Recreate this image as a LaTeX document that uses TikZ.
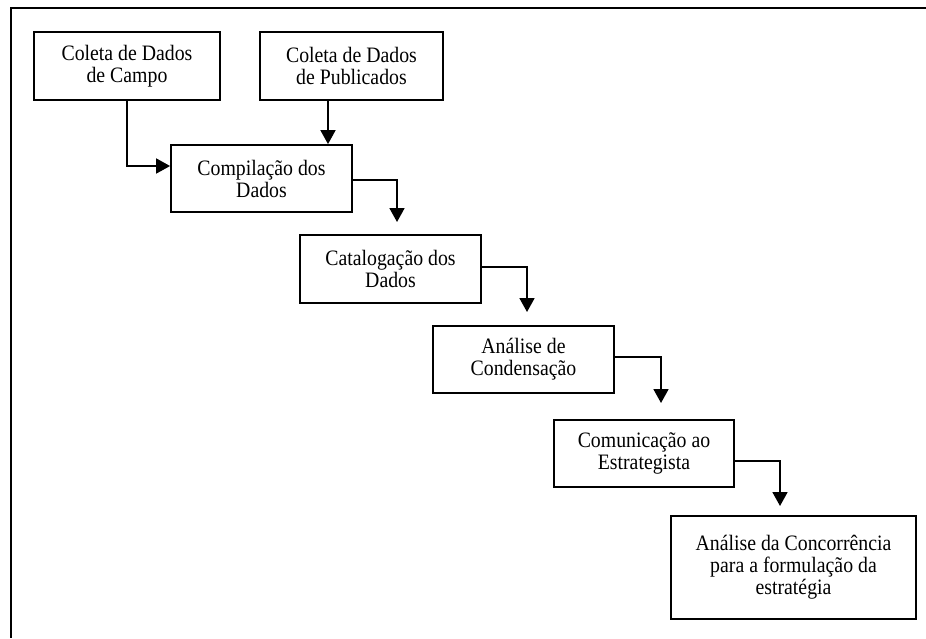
\documentclass[tikz,border=0pt]{standalone}
\usepackage{fontspec}
\setmainfont[FakeStretch=0.9]{Liberation Serif}
\usetikzlibrary{arrows.meta}
\begin{document}
\begin{tikzpicture}[x=1pt,y=-1pt,
  box/.style={draw=black,line width=1.8pt,align=center,inner sep=0pt,
    font=\fontsize{22}{22}\selectfont},
  arr/.style={line width=1.8pt,-{Triangle[width=15pt,length=14pt]}}]
\useasboundingbox (0,0) rectangle (926,638);
\draw[line width=2.6pt] (926,8) -- (11,8) -- (11,638);
% boxes: minimum sizes from pixel extents
\node[box,minimum width=186pt,minimum height=68pt] (a) at (127,66) {Coleta de Dados\\de Campo};
\node[box,minimum width=183pt,minimum height=68pt] (b) at (351.5,66) {Coleta de Dados\\de Publicados};
\node[box,minimum width=181pt,minimum height=67pt] (comp) at (261.5,178.5) {Compilação dos\\Dados};
\node[box,minimum width=181pt,minimum height=68pt] (cat) at (390.5,269) {Catalogação dos\\Dados};
\node[box,minimum width=181pt,minimum height=67pt] (ana) at (523.5,359.5) {Análise de\\Condensação};
\node[box,minimum width=180pt,minimum height=67pt] (com) at (644,453.5) {Comunicação ao\\Estrategista};
\node[box,minimum width=245pt,minimum height=103pt] (fin) at (793.5,567.5) {Análise da Concorrência\\para a formulação da\\estratégia};
% free arrow ends
\coordinate (t1) at (397,222);
\coordinate (t2) at (527,312);
\coordinate (t3) at (661,403);
\coordinate (t4) at (780,506);
% connectors
\draw[arr] (a.south) |- (comp.west |- 0,166);
\draw[arr] (b.south -| 328,0) -- (comp.north -| 328,0);
\draw[arr] (comp.east |- 0,180) -| (t1);
\draw[arr] (cat.east |- 0,267) -| (t2);
\draw[arr] (ana.east |- 0,357) -| (t3);
\draw[arr] (com.east |- 0,461) -| (t4);
\end{tikzpicture}
\end{document}
